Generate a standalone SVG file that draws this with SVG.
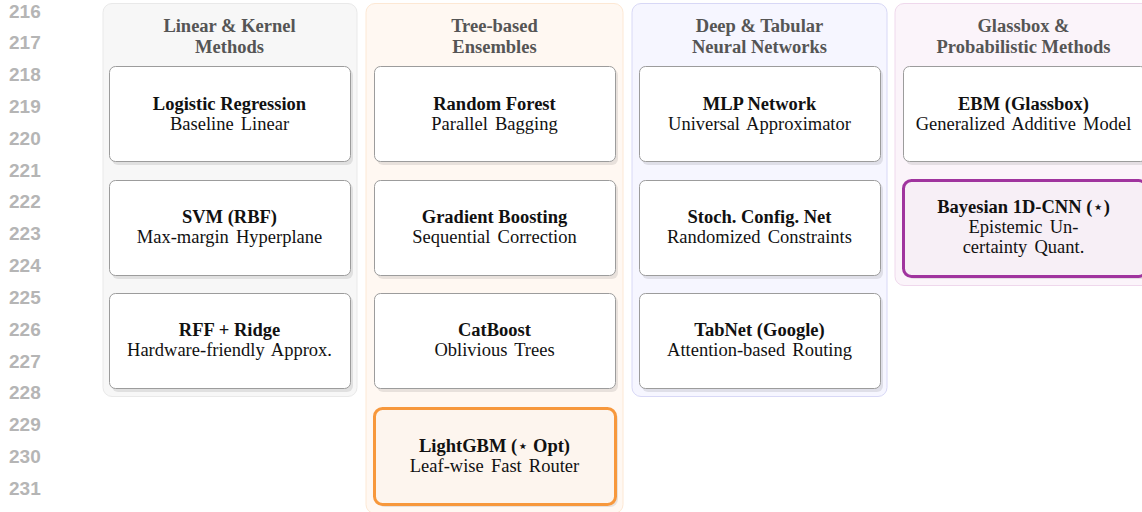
<svg xmlns="http://www.w3.org/2000/svg" width="1142" height="512" viewBox="0 0 1142 512">
<style>
.ln{font-family:"Liberation Sans",Arial,sans-serif;font-weight:bold;font-size:19px;fill:#b5b5b5}
.hd{font-family:"Liberation Serif","Times New Roman",serif;font-weight:bold;font-size:18.5px;fill:#555;text-anchor:middle}
.t{font-family:"Liberation Serif","Times New Roman",serif;font-weight:bold;font-size:18.5px;fill:#111;text-anchor:middle}
.s{font-family:"Liberation Serif","Times New Roman",serif;font-size:18.5px;fill:#111;text-anchor:middle;word-spacing:2.5px}
.star{font-family:"DejaVu Sans",sans-serif;font-weight:normal;font-size:18px}
.box{fill:#fff;stroke:#9c9c9c;stroke-width:1}
.sh{fill:#000;fill-opacity:0.09}
</style>
<rect width="1142" height="512" fill="#fff"/>
<g id="line-numbers">
<text class="ln" x="9" y="17.5">216</text>
<text class="ln" x="9" y="49.3">217</text>
<text class="ln" x="9" y="81.1">218</text>
<text class="ln" x="9" y="113">219</text>
<text class="ln" x="9" y="144.8">220</text>
<text class="ln" x="9" y="176.6">221</text>
<text class="ln" x="9" y="208.4">222</text>
<text class="ln" x="9" y="240.2">223</text>
<text class="ln" x="9" y="272.1">224</text>
<text class="ln" x="9" y="303.9">225</text>
<text class="ln" x="9" y="335.7">226</text>
<text class="ln" x="9" y="367.5">227</text>
<text class="ln" x="9" y="399.3">228</text>
<text class="ln" x="9" y="431.2">229</text>
<text class="ln" x="9" y="463">230</text>
<text class="ln" x="9" y="494.8">231</text>
</g>
<g id="col-linear">
<rect x="103" y="3.5" width="254" height="393" rx="9" fill="#f7f7f7" stroke="#e9e9e9"/>
<text class="hd" x="229.5" y="31.5">Linear &amp; Kernel</text>
<text class="hd" x="229.5" y="52.5">Methods</text>
</g>
<g id="col-tree">
<rect x="366" y="3.5" width="257" height="510" rx="9" fill="#fff8f2" stroke="#fde8d4"/>
<text class="hd" x="494.5" y="31.5">Tree-based</text>
<text class="hd" x="494.5" y="52.5">Ensembles</text>
</g>
<g id="col-deep">
<rect x="632" y="3.5" width="255" height="393" rx="9" fill="#f6f6ff" stroke="#d8d8f6"/>
<text class="hd" x="759.5" y="31.5">Deep &amp; Tabular</text>
<text class="hd" x="759.5" y="52.5">Neural Networks</text>
</g>
<g id="col-glass">
<rect x="895" y="3.5" width="256" height="282" rx="9" fill="#fbf4fa" stroke="#efd8ec"/>
<text class="hd" x="1023.5" y="31.5">Glassbox &amp;</text>
<text class="hd" x="1023.5" y="52.5">Probabilistic Methods</text>
</g>
<g id="connectors"/>
<g id="n-logreg">
<rect class="sh" x="112" y="69" width="241" height="96" rx="6"/>
<rect class="box" x="109.5" y="66.5" width="241" height="95" rx="6"/>
<text class="t" x="229.5" y="110">Logistic Regression</text>
<text class="s" x="229.5" y="130">Baseline Linear</text>
</g>
<g id="n-svm">
<rect class="sh" x="112" y="183" width="241" height="96" rx="6"/>
<rect class="box" x="109.5" y="180.5" width="241" height="95" rx="6"/>
<text class="t" x="229.5" y="223">SVM (RBF)</text>
<text class="s" x="229.5" y="243">Max-margin Hyperplane</text>
</g>
<g id="n-rff">
<rect class="sh" x="112" y="296" width="241" height="96" rx="6"/>
<rect class="box" x="109.5" y="293.5" width="241" height="95" rx="6"/>
<text class="t" x="229.5" y="336">RFF + Ridge</text>
<text class="s" x="229.5" y="356">Hardware-friendly Approx.</text>
</g>
<g id="n-rf">
<rect class="sh" x="377" y="69" width="241" height="96" rx="6"/>
<rect class="box" x="374.5" y="66.5" width="241" height="95" rx="6"/>
<text class="t" x="494.5" y="110">Random Forest</text>
<text class="s" x="494.5" y="130">Parallel Bagging</text>
</g>
<g id="n-gb">
<rect class="sh" x="377" y="183" width="241" height="96" rx="6"/>
<rect class="box" x="374.5" y="180.5" width="241" height="95" rx="6"/>
<text class="t" x="494.5" y="223">Gradient Boosting</text>
<text class="s" x="494.5" y="243">Sequential Correction</text>
</g>
<g id="n-cat">
<rect class="sh" x="377" y="296" width="241" height="96" rx="6"/>
<rect class="box" x="374.5" y="293.5" width="241" height="95" rx="6"/>
<text class="t" x="494.5" y="336">CatBoost</text>
<text class="s" x="494.5" y="356">Oblivious Trees</text>
</g>
<g id="n-lgbm">
<rect class="sh" x="377" y="411" width="241" height="96" rx="8"/>
<rect x="374.5" y="408.5" width="241" height="96" rx="8" fill="#fdf5ee" stroke="#f7983c" stroke-width="3"/>
<text class="t" x="494.5" y="452">LightGBM (<tspan class="star">⋆</tspan> Opt)</text>
<text class="s" x="494.5" y="472">Leaf-wise Fast Router</text>
</g>
<g id="n-mlp">
<rect class="sh" x="642" y="69" width="241" height="96" rx="6"/>
<rect class="box" x="639.5" y="66.5" width="241" height="95" rx="6"/>
<text class="t" x="759.5" y="110">MLP Network</text>
<text class="s" x="759.5" y="130">Universal Approximator</text>
</g>
<g id="n-scn">
<rect class="sh" x="642" y="183" width="241" height="96" rx="6"/>
<rect class="box" x="639.5" y="180.5" width="241" height="95" rx="6"/>
<text class="t" x="759.5" y="223">Stoch. Config. Net</text>
<text class="s" x="759.5" y="243">Randomized Constraints</text>
</g>
<g id="n-tabnet">
<rect class="sh" x="642" y="296" width="241" height="96" rx="6"/>
<rect class="box" x="639.5" y="293.5" width="241" height="95" rx="6"/>
<text class="t" x="759.5" y="336">TabNet (Google)</text>
<text class="s" x="759.5" y="356">Attention-based Routing</text>
</g>
<g id="n-ebm">
<rect class="sh" x="906" y="69" width="243" height="96" rx="6"/>
<rect class="box" x="903.5" y="66.5" width="243" height="95" rx="6"/>
<text class="t" x="1023.5" y="110">EBM (Glassbox)</text>
<text class="s" x="1023.5" y="130">Generalized Additive Model</text>
</g>
<g id="n-bcnn">
<rect class="sh" x="906" y="183" width="243" height="96" rx="8"/>
<rect x="903.5" y="180.5" width="243" height="96" rx="8" fill="#f7eff6" stroke="#a0349e" stroke-width="3"/>
<text class="t" x="1023.5" y="213">Bayesian 1D-CNN (<tspan class="star">⋆</tspan>)</text>
<text class="s" x="1023.5" y="233">Epistemic Un-</text>
<text class="s" x="1023.5" y="253">certainty Quant.</text>
</g>
</svg>
